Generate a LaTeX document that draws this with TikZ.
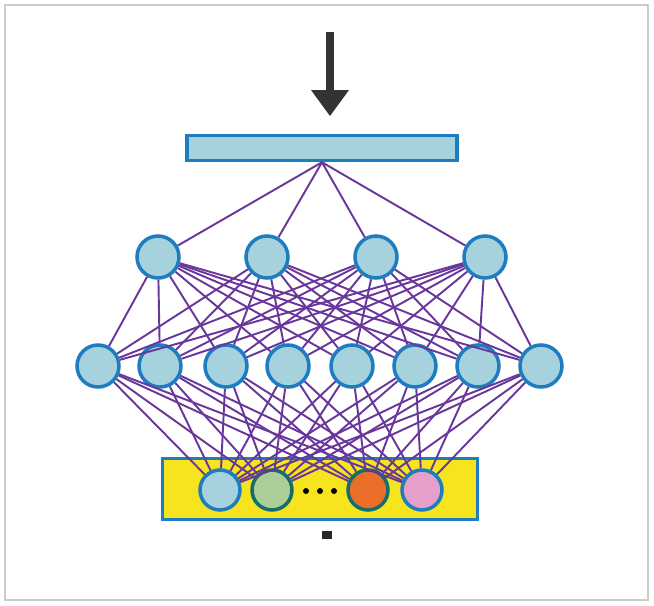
\documentclass[tikz,border=0pt]{standalone}
\usepackage{tikz}
\usetikzlibrary{positioning, calc}
\definecolor{cellblue}{RGB}{166,210,222}
\definecolor{rimblue}{RGB}{30,125,190}
\definecolor{wire}{RGB}{105,55,155}
\definecolor{boxyellow}{RGB}{245,228,30}
\definecolor{cellgreen}{RGB}{172,205,150}
\definecolor{cellorange}{RGB}{235,110,40}
\definecolor{cellpink}{RGB}{228,160,200}
\definecolor{rimteal}{RGB}{20,110,110}
\begin{document}
\begin{tikzpicture}[x=0.02cm, y=-0.02cm, line width=0.9pt,
  unit/.style={circle, draw=rimblue, line width=2pt, fill=cellblue, minimum size=0.84cm, inner sep=0pt},
  link/.style={draw=wire, line width=1.1pt}]
\useasboundingbox (0,0) rectangle (654,606);
\draw[gray!40, line width=0.8pt] (5,5) rectangle (648,600);
% input arrow and bar
\draw[black!80, line width=5pt] (330,32) -- (330,92);
\fill[black!80] (311,90) -- (349,90) -- (330,116) -- cycle;
\node[draw=rimblue, line width=2pt, fill=cellblue, minimum width=5.4cm, minimum height=0.5cm, inner sep=0pt] (bar) at (322,148) {};
% bottom box
\node[draw=rimblue, line width=2pt, fill=boxyellow, minimum width=6.3cm, minimum height=1.22cm, inner sep=0pt] (base) at (320,489) {};
% layers
\foreach \x [count=\i] in {158,267,376,485}
  \node[unit] (h\i) at (\x,257) {};
\foreach \x [count=\i] in {98,160,226,288,352,415,478,541}
  \node[unit] (g\i) at (\x,366) {};
\node[unit, minimum size=0.8cm] (o1) at (220,490) {};
\node[unit, minimum size=0.8cm, draw=rimteal, fill=cellgreen] (o2) at (272,490) {};
\node[unit, minimum size=0.8cm, draw=rimteal, fill=cellorange] (o3) at (368,490) {};
\node[unit, minimum size=0.8cm, fill=cellpink] (o4) at (422,490) {};
\foreach \x in {306,320,334}
  \fill (\x,491) circle (3);
\fill[black!85] (322,531) rectangle (332,539);
% connections
\coordinate (tap) at (bar.south);
\foreach \i in {1,...,4}
  \draw[link] (tap) -- (h\i);
\foreach \i in {1,...,4}
  \foreach \j in {1,...,8}
    \draw[link] (h\i) -- (g\j);
\foreach \j in {1,...,8}
  \foreach \k in {1,...,4}
    \draw[link] (g\j) -- (o\k);
\end{tikzpicture}
\end{document}
